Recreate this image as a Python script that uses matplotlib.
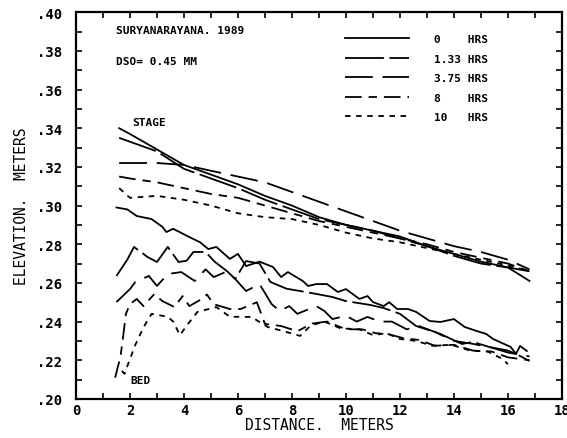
import matplotlib
matplotlib.use("Agg")
import matplotlib.pyplot as plt
from matplotlib.lines import Line2D

# ---- data ----
stage_x = [1.6, 2, 3, 4, 5, 6, 7, 8, 9, 10, 11, 12, 13, 14, 15, 16, 16.8]
stage_0 = [.340, .337, .329, .321, .316, .311, .305, .300, .294, .290, .287, .284, .279, .275, .271, .268, .261]
stage_133 = [.335, .333, .328, .319, .314, .309, .303, .298, .293, .290, .287, .283, .279, .274, .270, .268, .266]
stage_375 = [.322, .322, .322, .321, .318, .315, .312, .307, .302, .297, .292, .287, .283, .279, .276, .272, .267]
stage_8 = [.315, .314, .312, .309, .306, .304, .300, .296, .292, .289, .286, .283, .280, .276, .273, .270, .266]
stage_10 = [.309, .304, .305, .303, .300, .296, .294, .293, .290, .286, .283, .281, .278, .275, .272, .269, .266]

bed0_x = [1.5, 1.9, 2.25, 2.8, 3.2, 3.35, 3.6, 4.2, 4.6, 4.9, 5.2, 5.7, 6.0, 6.3, 6.8, 7.3, 7.6,
          7.85, 8.4, 8.6, 8.9, 9.3, 9.7, 10.0, 10.5, 10.8, 11.0, 11.4, 11.6, 11.9, 12.3, 12.6,
          13.1, 13.5, 14.0, 14.4, 14.85, 15.2, 15.45, 16.1, 16.3, 16.45, 16.7]
bed0_y = [.299, .298, .2946, .293, .289, .2863, .288, .2837, .281, .2775, .2786, .2724, .275,
          .2687, .271, .2682, .263, .2656, .261, .2584, .2594, .2594, .2553, .2568, .2517, .2532,
          .2501, .248, .250, .2465, .2465, .245, .2403, .2398, .2413, .2372, .2351, .2336, .231,
          .2269, .2233, .2274, .2248]

bed133_x = [1.5, 1.9, 2.15, 2.65, 3.0, 3.4, 3.8, 4.1, 4.35, 4.8, 5.15, 5.6, 5.9, 6.3, 6.8, 7.2,
            7.8, 8.3, 8.9, 9.5, 10.0, 10.9, 11.4, 12.0, 12.6, 13.3, 13.5, 14.3, 14.7, 15.3, 16.0,
            16.45, 16.8]
bed133_y = [.2636, .272, .2786, .2734, .2708, .2786, .2708, .2715, .276, .276, .2708, .266, .262,
            .2713, .270, .2605, .257, .2558, .2543, .2527, .2506, .2486, .247, .244, .2377, .2346,
            .2336, .2284, .2295, .2269, .225, .2222, .2196]

bed375_x = [1.5, 2.0, 2.2, 2.7, 3.0, 3.4, 3.9, 4.4, 4.8, 5.1, 5.6, 5.9, 6.3, 6.8, 7.25, 7.55, 7.9,
            8.2, 8.9, 9.2, 9.5, 10.0, 10.4, 10.8, 11.25, 11.7, 12.25, 12.7, 13.3, 14.0, 14.7, 15.4,
            16.0, 16.8]
bed375_y = [.2501, .2568, .2605, .2636, .2584, .2646, .2656, .261, .267, .263, .266, .262, .2558,
            .2594, .249, .2455, .248, .244, .248, .2455, .2413, .243, .240, .2424, .240, .240,
            .236, .2377, .2346, .2300, .2285, .2265, .2240, .2220]

bed8_x = [1.45, 1.65, 1.75, 1.85, 2.0, 2.25, 2.5, 2.9, 3.2, 3.65, 3.95, 4.2, 4.7, 4.85, 5.1, 5.7,
          6.1, 6.7, 7.0, 7.6, 8.2, 8.75, 9.3, 9.7, 10.0, 10.6, 11.1, 11.55, 12.1, 12.7, 13.3,
          14.0, 14.7, 15.4, 16.0, 16.8]
bed8_y = [.211, .222, .2326, .244, .249, .2517, .248, .2542, .2506, .2475, .2532, .248, .252,
          .254, .249, .2465, .2465, .250, .2388, .2377, .2350, .239, .240, .2377, .236, .2360,
          .2340, .2336, .2315, .2305, .2275, .2280, .2250, .2245, .2215, .2200]

bed10_x = [1.7, 1.8, 2.0, 2.2, 2.5, 2.8, 3.4, 3.6, 3.85, 4.15, 4.5, 5.2, 5.7, 6.5, 7.1, 7.7, 8.3,
           8.7, 9.2, 9.8, 10.5, 11.0, 11.5, 12.0, 12.6, 13.2, 13.9, 14.6, 15.25, 15.8, 16.0]
bed10_y = [.2145, .213, .2207, .228, .237, .244, .2425, .240, .233, .2388, .245, .2475, .2425,
           .2424, .2372, .235, .2326, .238, .240, .2365, .2360, .2330, .2340, .2310, .2300,
           .2275, .2280, .2250, .2245, .2207, .2180]

hrs = ["0", "1.33", "3.75", "8", "10"]
x_ticks = [0, 2, 4, 6, 8, 10, 12, 14, 16, 18]
y_ticks = [.20, .22, .24, .26, .28, .30, .32, .34, .36, .38, .40]
y_labels = [".20", ".22", ".24", ".26", ".28", ".30", ".32", ".34", ".36", ".38", ".40"]

plt.rcParams['font.family'] = ['DejaVu Sans Mono']
plt.rcParams['font.weight'] = 'bold'
plt.rcParams['lines.scale_dashes'] = False

styles = ['-', (0, (28, 4)), (0, (20, 7)), (0, (12, 5, 6, 5)), (0, (4, 4))]
lw = 1.3

fig = plt.figure(figsize=(5.67, 4.39), dpi=100)
ax = fig.add_axes([0.134, 0.089, 0.857, 0.881])

stages = [stage_0, stage_133, stage_375, stage_8, stage_10]
beds = [(bed0_x, bed0_y), (bed133_x, bed133_y), (bed375_x, bed375_y),
        (bed8_x, bed8_y), (bed10_x, bed10_y)]
for st, (bx, by), ls in zip(stages, beds, styles):
    ax.plot(stage_x, st, color='black', lw=lw, ls=ls)
    ax.plot(bx, by, color='black', lw=lw, ls=ls)

ax.set_xlim(0, 18)
ax.set_ylim(0.20, 0.40)
ax.set_xticks(x_ticks)
ax.set_xticklabels([str(t) for t in x_ticks], fontsize=10)
ax.set_yticks(y_ticks)
ax.set_yticklabels(y_labels, fontsize=10)
ax.set_xticks(range(0, 19), minor=True)
ax.set_yticks([0.20 + 0.01 * i for i in range(21)], minor=True)
ax.tick_params(which='both', direction='in', top=True, right=True, length=4, width=1.2)
ax.tick_params(axis='y', which='major', pad=10)
ax.tick_params(axis='x', which='major', pad=3)
for s in ax.spines.values():
    s.set_linewidth(1.6)

ax.set_xlabel("DISTANCE.  METERS", fontsize=10.5, labelpad=0)
ax.set_ylabel("ELEVATION.  METERS", fontsize=10.5, labelpad=6)

ax.text(1.5, 0.389, "SURYANARAYANA. 1989", fontsize=8)
ax.text(1.5, 0.373, "DSO= 0.45 MM", fontsize=8)
ax.text(2.1, 0.3415, "STAGE", fontsize=8)
ax.text(2.0, 0.208, "BED", fontsize=8)

handles = [Line2D([], [], color='black', lw=lw, ls=ls) for ls in styles]
labels = [f"{h:<5}HRS" for h in hrs]
ax.legend(handles, labels, loc='upper left', bbox_to_anchor=(0.553, 0.943),
          frameon=False, fontsize=8, handlelength=5.8, handletextpad=2.2,
          labelspacing=0.85, borderpad=0, borderaxespad=0)

fig.savefig("out.png", dpi=100)
